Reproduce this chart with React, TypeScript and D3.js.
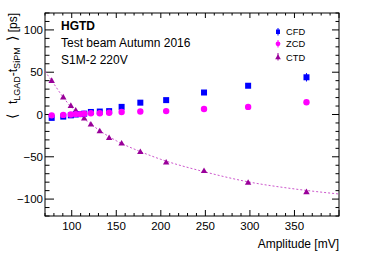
import React from 'react';
import * as d3 from 'd3';

// Measured points (Amplitude [mV])
const ampValues = [77.5, 90.5, 99, 104.5, 109.5, 114, 121.5, 131.5, 142, 156, 177, 206, 248.5, 298, 363.5];

// CFD (blue squares)
const cfdValues = [-4, -2.5, -1, 0, 0.5, 1, 3, 3.5, 4, 9, 14, 17, 26, 34, 44];
const cfdErrors = [1.5, 1.5, 1.5, 1.5, 1.5, 1.5, 1.5, 1.5, 1.5, 1.5, 2, 2, 2, 2.5, 5];

// ZCD (magenta circles)
const zcdValues = [-1, -0.5, 0, 0.5, 0.5, 1, 1.5, 1.5, 2, 3, 3.5, 4, 6.5, 9, 14.5];

// CTD (purple triangles)
const ctdValues = [39.5, 20, 10, 4.5, 0, -5, -12, -20, -28, -34.5, -44.5, -57, -67, -81, -92];

// CTD fit curve
const fitAmp = [70, 77.5, 90, 100, 110, 120, 130, 150, 175, 200, 250, 300, 350, 400];
const fitValues = [51, 40, 21, 8, -2, -10, -18, -31, -43, -53, -68, -80, -88, -94];

const xTicks = [100, 150, 200, 250, 300, 350];
const yTicks = [-100, -50, 0, 50, 100];

const W = 381;
const H = 258;
const margin = { left: 45, right: 42, top: 13, bottom: 42 };
const FONT = 'Liberation Sans, Arial, Helvetica, sans-serif';

const CFD_COLOR = '#0000ff';
const ZCD_COLOR = '#ff00ff';
const CTD_COLOR = '#990099';
const FIT_COLOR = '#cc55cc';

const App: React.FC = () => {
  const x = d3.scaleLinear().domain([70, 400]).range([margin.left, W - margin.right]);
  const y = d3.scaleLinear().domain([-120, 120]).range([H - margin.bottom, margin.top]);

  const x0 = x.range()[0];
  const x1 = x.range()[1];
  const y0 = y.range()[0];
  const y1 = y.range()[1];

  const minorX = d3.range(70, 401, 10);
  const minorY = d3.range(-120, 121, 10);

  const fitLine = d3.line<number>()
    .x((_, i) => x(fitAmp[i]))
    .y(d => y(d))
    .curve(d3.curveMonotoneX);

  const tri = d3.symbol().type(d3.symbolTriangle).size(18)();

  return (
    <svg width={W} height={H} style={{ position: 'absolute', left: 0, top: 0, background: '#fff' }} fontFamily={FONT}>
      {/* frame */}
      <rect x={x0} y={y1} width={x1 - x0} height={y0 - y1} fill="none" stroke="#000" strokeWidth={1} />

      {/* x ticks, bottom and top */}
      {minorX.map(v => {
        const major = v % 50 === 0;
        return (
          <g key={'xt' + v}>
            <line x1={x(v)} x2={x(v)} y1={y0} y2={y0 - (major ? 6 : 3)} stroke="#000" />
            <line x1={x(v)} x2={x(v)} y1={y1} y2={y1 + (major ? 5 : 2.5)} stroke="#000" />
          </g>
        );
      })}
      {xTicks.map(v => (
        <text key={'xl' + v} x={x(v)} y={y0 + 13.5} fontSize={11.5} textAnchor="middle" fill="#000">{v}</text>
      ))}

      {/* y ticks, left and right */}
      {minorY.map(v => {
        const major = v % 50 === 0;
        return (
          <g key={'yt' + v}>
            <line x1={x0} x2={x0 + (major ? 9 : 4.5)} y1={y(v)} y2={y(v)} stroke="#000" />
            <line x1={x1} x2={x1 - (major ? 7 : 3.5)} y1={y(v)} y2={y(v)} stroke="#000" />
          </g>
        );
      })}
      {yTicks.map(v => (
        <text key={'yl' + v} x={x0 - 2} y={y(v) + 4} fontSize={11.5} textAnchor="end" fill="#000">
          {v < 0 ? '\u2212' + Math.abs(v) : v}
        </text>
      ))}

      {/* axis titles */}
      <text x={x1} y={248} fontSize={12} textAnchor="end" fill="#000">Amplitude [mV]</text>
      <text transform={`translate(17,${y1}) rotate(-90)`} fontSize={12} textAnchor="end" fill="#000" xmlSpace="preserve">
        <tspan fontSize={13.5}>{'\u27E8'}</tspan>
        <tspan>{'   t'}</tspan>
        <tspan fontSize={9} dy={3}>LGAD</tspan>
        <tspan dy={-3}>-t</tspan>
        <tspan fontSize={9} dy={3}>SiPM</tspan>
        <tspan dy={-3}>{'  '}</tspan>
        <tspan fontSize={13.5}>{'\u27E9'}</tspan>
        <tspan>{' [ps]'}</tspan>
      </text>

      {/* fit curve */}
      <path d={fitLine(fitValues) || ''} fill="none" stroke={FIT_COLOR} strokeWidth={1} strokeDasharray="2,2" />

      {/* CTD */}
      {ctdValues.map((v, i) => (
        <path key={'ctd' + i} d={tri || ''} transform={`translate(${x(ampValues[i])},${y(v)})`} fill={CTD_COLOR} />
      ))}

      {/* CFD */}
      {cfdValues.map((v, i) => (
        <g key={'cfd' + i}>
          <line x1={x(ampValues[i])} x2={x(ampValues[i])} y1={y(v - cfdErrors[i])} y2={y(v + cfdErrors[i])} stroke={CFD_COLOR} />
          <rect x={x(ampValues[i]) - 3} y={y(v) - 3} width={6} height={6} fill={CFD_COLOR} />
        </g>
      ))}

      {/* ZCD */}
      {zcdValues.map((v, i) => (
        <circle key={'zcd' + i} cx={x(ampValues[i])} cy={y(v)} r={3.2} fill={ZCD_COLOR} />
      ))}

      {/* labels */}
      <text x={61} y={30} fontSize={12} fontWeight="bold" fill="#000">HGTD</text>
      <text x={61} y={47.3} fontSize={12} fill="#000">Test beam Autumn 2016</text>
      <text x={61} y={64.3} fontSize={12} fill="#000">S1M-2 220V</text>

      {/* legend */}
      <g fontSize={9.3} fill="#000">
        <line x1={278} x2={278} y1={28} y2={35.5} stroke={CFD_COLOR} />
        <rect x={276} y={29.5} width={4} height={4.5} fill={CFD_COLOR} />
        <text x={286} y={35.3}>CFD</text>

        <line x1={278} x2={278} y1={40} y2={47.5} stroke={ZCD_COLOR} />
        <circle cx={278} cy={43.8} r={2.4} fill={ZCD_COLOR} />
        <text x={286} y={47.3}>ZCD</text>

        <line x1={278} x2={278} y1={53} y2={60.5} stroke={CTD_COLOR} />
        <path d={d3.symbol().type(d3.symbolTriangle).size(14)() || ''} transform="translate(278,57.5)" fill={CTD_COLOR} />
        <text x={286} y={60.5}>CTD</text>
      </g>
    </svg>
  );
};

export default App;
